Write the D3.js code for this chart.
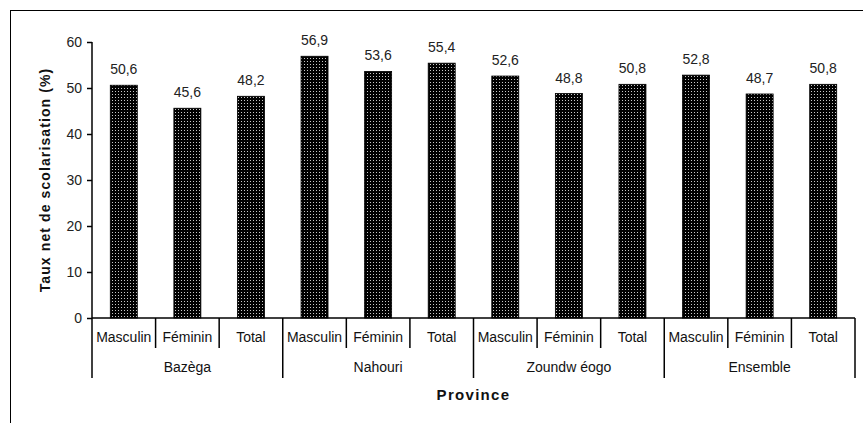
<!DOCTYPE html>
<html><head><meta charset="utf-8">
<script src="https://cdn.jsdelivr.net/npm/d3@7"></script>
<style>body{margin:0;background:#fff}svg{display:block;font-family:"Liberation Sans",Arial,sans-serif}</style>
</head><body><svg id="c" width="863" height="423"></svg>
<script>
const provinces = ["Bazèga","Nahouri","Zoundw éogo","Ensemble"];
const sexes = ["Masculin","Féminin","Total"];
const values = [50.6,45.6,48.2, 56.9,53.6,55.4, 52.6,48.8,50.8, 52.8,48.7,50.8];
const yTicks = [0,10,20,30,40,50,60];

const svg = d3.select("#c");
const defs = svg.append("defs");
const pat = defs.append("pattern").attr("id","dots").attr("patternUnits","userSpaceOnUse")
  .attr("width",3).attr("height",3);
pat.append("rect").attr("width",3).attr("height",3).attr("fill","#000");
pat.append("rect").attr("x",1).attr("y",1).attr("width",1).attr("height",1).attr("fill","#c8c8c8");

// frame
svg.append("line").attr("x1",10.5).attr("x2",863).attr("y1",10.5).attr("y2",10.5).attr("stroke","#000");
svg.append("line").attr("x1",10.5).attr("x2",10.5).attr("y1",10).attr("y2",423).attr("stroke","#000");

const x0 = 92, x1 = 855, yTop = 42, yBot = 318;
const keys = d3.range(values.length);
const x = d3.scaleBand().domain(keys).range([x0,x1]).paddingInner(0).paddingOuter(0);
const y = d3.scaleLinear().domain([0,60]).range([yBot,yTop]);

const yAxis = svg.append("g").attr("transform",`translate(${x0},0)`)
  .call(d3.axisLeft(y).tickValues(yTicks).tickSize(5).tickPadding(5));
yAxis.selectAll("path,line").attr("stroke","#000").attr("stroke-width",1.5);
yAxis.select(".domain").attr("d",`M0,${yBot}V${yTop}`);
yAxis.selectAll("text").attr("font-size",14).attr("fill","#222").attr("font-family","Liberation Sans, Arial");

const bw = 27;
svg.append("g").selectAll("rect").data(values).join("rect")
  .attr("x",(d,i)=>x(i)+x.bandwidth()/2-bw/2).attr("width",bw)
  .attr("y",d=>y(d)).attr("height",d=>y(0)-y(d))
  .attr("fill","url(#dots)").attr("stroke","#000").attr("stroke-width",0.8);

svg.append("g").selectAll("text").data(values).join("text")
  .attr("x",(d,i)=>x(i)+x.bandwidth()/2).attr("y",d=>y(d)-11)
  .attr("text-anchor","middle").attr("font-size",14).attr("fill","#222")
  .text(d=>d.toFixed(1).replace(".",","));

// baseline
svg.append("line").attr("x1",x0).attr("x2",x1).attr("y1",yBot).attr("y2",yBot).attr("stroke","#000").attr("stroke-width",1.5);

// category dividers
const g = svg.append("g");
keys.forEach(i=>{
  const isGroup = i%3===0;
  g.append("line").attr("x1",x(i)).attr("x2",x(i)).attr("y1",yBot).attr("y2",isGroup?378:348)
    .attr("stroke","#000").attr("stroke-width",1.5);
  g.append("text").attr("x",x(i)+x.bandwidth()/2).attr("y",342).attr("text-anchor","middle")
    .attr("font-size",14).attr("fill","#111").text(sexes[i%3]);
});
g.append("line").attr("x1",x1).attr("x2",x1).attr("y1",yBot).attr("y2",378).attr("stroke","#000").attr("stroke-width",1.5);
provinces.forEach((p,j)=>{
  g.append("text").attr("x",x(j*3)+1.5*x.bandwidth()).attr("y",372).attr("text-anchor","middle")
    .attr("font-size",14).attr("fill","#111").text(p);
});

svg.append("text").attr("x",(x0+x1)/2).attr("y",400).attr("text-anchor","middle")
  .attr("font-size",15).attr("font-weight","bold").attr("letter-spacing",1.3).attr("fill","#111").text("Province");
svg.append("text").attr("transform",`translate(50,${(yTop+yBot)/2}) rotate(-90)`).attr("text-anchor","middle")
  .attr("font-size",14).attr("font-weight","bold").attr("letter-spacing",1.1).attr("fill","#111").text("Taux net de scolarisation (%)");
</script></body></html>
